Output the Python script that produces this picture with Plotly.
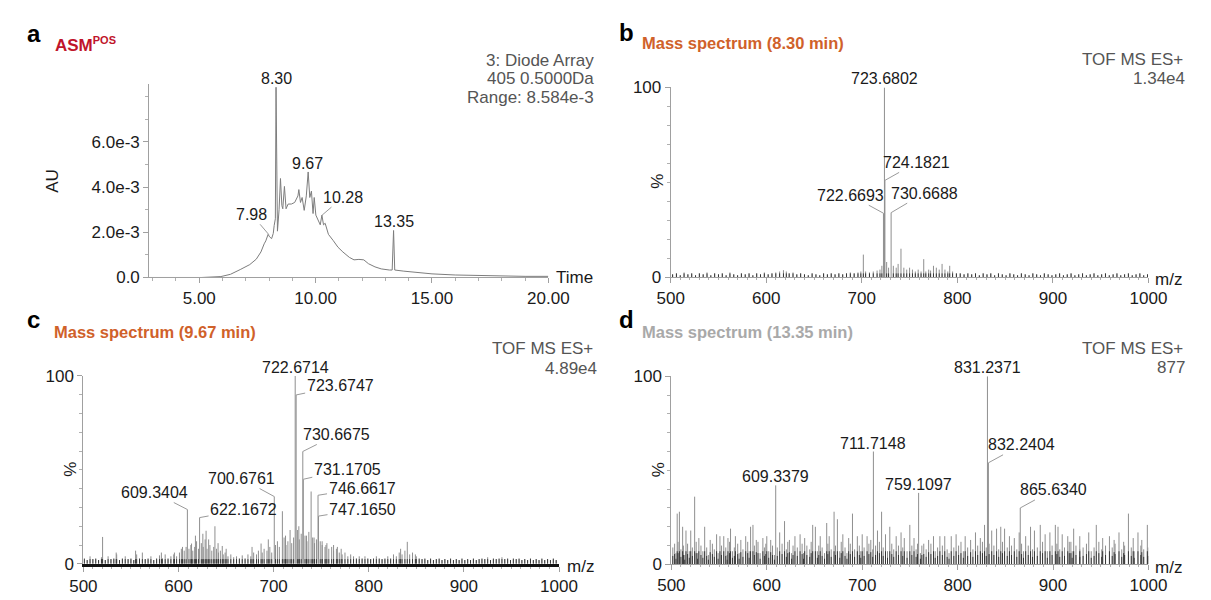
import plotly.graph_objects as go

W, H = 1211, 600
OFF = 8  # page body margin of the browser
FONT = "Liberation Sans, Arial, Helvetica, sans-serif"

# ---------------- data ----------------
# Panel a: diode-array chromatogram (min, AU x 1e-3)
CHROM_T = [2.85, 4.0, 5.10, 5.93, 6.34, 6.76, 7.17, 7.45, 7.65, 7.79,
           7.86, 7.96, 8.02, 8.11, 8.18, 8.22, 8.27, 8.30, 8.36, 8.43,
           8.49, 8.55, 8.59, 8.66, 8.73, 8.82, 8.96, 9.10, 9.17, 9.24,
           9.28, 9.35, 9.42, 9.51, 9.60, 9.68, 9.75, 9.82, 9.89, 9.94,
           10.01, 10.09, 10.20, 10.27, 10.34, 10.41, 10.55, 10.76, 10.96, 11.17,
           11.45, 11.65, 11.86, 12.07, 12.27, 12.55, 12.82, 13.17, 13.29, 13.35,
           13.40, 13.79, 14.21, 15.0, 16.0, 17.0, 18.0, 19.0, 20.0]
CHROM_MAU = [0.0, 0.0, 0.0, 0.04, 0.14, 0.35, 0.57, 0.81, 1.13, 1.49,
             1.62, 1.91, 1.80, 1.72, 1.95, 2.30, 2.60, 8.42, 2.05, 3.00,
             4.38, 3.18, 3.04, 4.03, 3.04, 3.25, 3.25, 3.32, 3.47, 3.61,
             3.89, 3.32, 3.54, 2.97, 3.61, 4.67, 3.54, 3.82, 2.83, 3.54,
             2.76, 2.55, 2.33, 2.76, 2.33, 2.40, 1.91, 1.63, 1.34, 1.13,
             0.89, 0.78, 0.80, 0.78, 0.61, 0.47, 0.38, 0.33, 0.33, 2.08,
             0.33, 0.28, 0.24, 0.16, 0.11, 0.08, 0.06, 0.05, 0.05]
CHROM_LABELS = [8.30, 9.67, 13.35]
CHROM_LABEL_AU = [8.42, 4.67, 2.08]
CHROM_LEADER_LABELS = [7.98, 10.28]
CHROM_LEADER_AU = [1.91, 2.76]

# Panel b: mass spectrum 8.30 min (m/z, %)
B_PEAKS = [(722.6693, 33.7), (723.6802, 100), (724.1821, 51), (730.6688, 34)]
B_NOISE = [(502, 1.5), (506, 2), (510, 1), (514, 2.5), (518, 1.5), (522, 2), (526, 1), (530, 2),
           (534, 1.5), (538, 2.5), (542, 1), (546, 2), (550, 1.5), (554, 2), (558, 1), (562, 2.5),
           (566, 1.5), (570, 1), (574, 2), (578, 1.5), (582, 2), (586, 1), (590, 2), (594, 1.5),
           (598, 2.5), (602, 1.5), (606, 2), (610, 2.5), (614, 3), (618, 3.7), (621, 3), (624, 2),
           (628, 2.5), (632, 1.5), (636, 2), (640, 1.5), (644, 1), (648, 2), (652, 1.5), (656, 1),
           (660, 2), (664, 1.5), (668, 2), (672, 1.5), (676, 2), (680, 1.5), (684, 2), (688, 2.5),
           (692, 2), (696, 2.5), (699, 3), (701.6, 11.9), (704, 3), (708, 2.5), (712, 3), (716, 3.5),
           (719, 4), (721, 6), (726, 8), (728, 5), (733, 6), (736, 5), (738, 7), (741, 15),
           (744, 5), (747, 4), (750, 5), (753, 4), (756, 3), (759, 4), (762, 3), (764.8, 9.5),
           (767, 3), (770, 4), (772, 3.5), (775, 6), (778, 5), (781, 4), (784, 7), (787, 4),
           (790, 3), (792, 6), (795, 3), (799, 2), (803, 2), (807, 1.5), (811, 2), (815, 1.5),
           (819, 2), (823, 1), (827, 2), (831, 1.5), (835, 2), (839, 1), (843, 2), (847, 1.5),
           (851, 1), (855, 2), (859, 1.5), (863, 1), (867, 2), (871, 1.5), (875, 1), (879, 2),
           (883, 1.5), (887, 1), (891, 2), (895, 1.5), (899, 1), (903, 1.5), (907, 2), (911, 1),
           (915, 1.5), (919, 2), (923, 1), (927, 1.5), (931, 2), (935, 1), (939, 1.5), (943, 2),
           (947, 1), (951, 1.5), (955, 2), (959, 1), (963, 1.5), (967, 2), (971, 1), (975, 1.5),
           (979, 2), (983, 1), (987, 1.5), (991, 2), (995, 1), (999, 1.5)]

# Panel c: mass spectrum 9.67 min (m/z, %)
C_PEAKS = [(609.3404, 28.9), (622.1672, 24.6), (700.6761, 35.8), (722.6714, 100), (723.6747, 89.9),
           (730.6675, 59.8), (731.1705, 45), (746.6617, 36.5), (747.1650, 25.4)]
C_NOISE = [(520.2, 14.3), (534.5, 6), (554.9, 7), (582, 6), (595.7, 6), (604.2, 9), (613.7, 10.8),
           (617.8, 15), (625.6, 16), (629.0, 17.6), (631.7, 13), (638.3, 20), (641.6, 11), (646, 9.5),
           (650.1, 8), (677.3, 9), (686.8, 10.8), (694.4, 13), (709.2, 28), (712.5, 15), (717.3, 18),
           (726.5, 20), (734.5, 15), (739.4, 38.5), (742.5, 14), (751, 12), (755, 10), (763, 10),
           (767, 9), (771, 8), (833.5, 8), (840.5, 11.7), (849, 5)]
C_LOW = [(501, 3), (504, 2), (507, 4), (510, 2.5), (513, 3), (516, 2), (519, 3.5), (523, 2),
         (526, 4), (529, 2.5), (532, 3), (535, 5), (538, 2), (541, 3), (544, 4), (547, 2.5),
         (550, 3), (553, 2), (556, 5), (559, 3), (562, 6), (565, 2.5), (568, 3), (571, 4),
         (574, 2), (577, 3), (580, 4.5), (583, 3), (586, 5), (589, 3), (592, 4), (595, 5),
         (598, 4), (601, 6), (603, 8), (606, 7), (608, 9), (611, 8), (613, 10), (615, 7),
         (617, 9), (619, 12), (621, 8), (624, 11), (626, 9), (628, 13), (630, 8), (633, 10),
         (635, 7), (637, 9), (640, 8), (642, 6), (644, 7), (647, 5), (649, 6), (652, 4),
         (655, 5), (658, 3.5), (661, 4), (664, 3), (667, 4.5), (670, 3), (673, 5), (676, 4),
         (679, 6), (682, 5), (684, 7), (688, 6), (690, 8), (693, 7), (696, 9), (698, 6),
         (702, 10), (704, 12), (706, 9), (711, 14), (713, 10), (715, 12), (719, 11), (721, 14),
         (725, 18), (727, 13), (729, 16), (733, 15), (735, 12), (737, 17), (741, 14), (743, 11),
         (745, 13), (749, 12), (751, 10), (754, 9), (756, 11), (758, 8), (761, 9), (763, 7),
         (766, 8), (769, 6), (772, 5), (775, 6), (778, 4), (781, 5), (784, 4), (787, 3),
         (790, 4), (793, 3), (796, 4), (799, 3), (802, 2.5), (805, 3), (808, 4), (811, 3),
         (814, 2.5), (817, 3), (820, 4), (823, 3), (826, 5), (829, 4), (832, 6), (835, 5),
         (838, 7), (843, 5), (846, 6), (850, 4), (853, 3), (856, 2.5), (859, 3), (862, 2),
         (865, 3), (868, 2), (871, 2.5), (874, 3), (877, 2), (880, 2.5), (883, 2), (886, 3),
         (889, 2), (892, 2.5), (895, 2), (898, 3), (901, 2), (904, 2.5), (907, 2), (910, 3),
         (913, 2), (916, 2.5), (919, 3), (922, 2.5), (925, 3.5), (928, 2), (931, 3), (934, 2.5),
         (937, 3), (940, 3.5), (943, 2.5), (946, 3), (949, 2), (952, 3), (955, 2.5), (958, 3),
         (961, 2), (964, 2.5), (967, 2), (970, 3), (973, 2), (976, 2.5), (979, 2), (982, 3),
         (985, 2), (988, 2.5), (991, 2), (994, 3), (997, 2)]

# Panel d: mass spectrum 13.35 min (m/z, %)
D_PEAKS = [(609.3379, 42), (711.7148, 60), (759.1097, 38), (831.2371, 100), (832.2404, 54), (865.6340, 30)]
D_NOISE = [(503.4, 11), (506.1, 27), (508.4, 28), (511.8, 20), (515.3, 18), (520.3, 18), (524.4, 36),
           (528.8, 14), (534.9, 20), (540.7, 13), (547.4, 16), (550.9, 15), (554.9, 15), (559.3, 14),
           (562, 19), (567.1, 15), (572.8, 13), (577.9, 15), (583, 20), (585.5, 21), (590.8, 12),
           (595.9, 14), (600, 15), (604.1, 13), (613.5, 17), (618.6, 23), (623.7, 13), (629.5, 15),
           (634.9, 16), (639.7, 14), (648.1, 21), (650.9, 20), (656, 15), (662.8, 22), (665.4, 15),
           (670.5, 28), (674, 24), (679.7, 16), (685.8, 14), (689.8, 27), (694.9, 15), (700, 16),
           (705.1, 15), (716, 18), (720.3, 28), (724.4, 16), (728.9, 20), (735.6, 15), (740.7, 17),
           (744.1, 14), (749.9, 21), (754.3, 14), (764.5, 11), (769.6, 13), (774.7, 15), (781.4, 15),
           (786.5, 15), (793.3, 15), (798.4, 16), (803.5, 12), (807.9, 15), (813.6, 13), (818.7, 17),
           (823.8, 14), (828.2, 21), (835.7, 18), (840.8, 19), (845.2, 20), (849.2, 19), (854.3, 15),
           (859.4, 14), (864.5, 17), (871.3, 15), (876.4, 20), (880.5, 18), (886.6, 21), (891.7, 16),
           (896.7, 17), (902.4, 21), (905.2, 20), (909.6, 16), (915.4, 15), (918.7, 12), (921.6, 19),
           (928, 15), (937.4, 17), (945.3, 21), (952, 14), (959.1, 15), (964, 13), (969.1, 17),
           (974, 12), (979, 27), (984, 14), (989, 17), (993, 13), (998.8, 21)]
D_LOW = [(501.5, 9), (504.8, 6), (507, 12), (510, 8), (512.6, 10), (514, 5), (517, 11), (518.8, 7),
         (522, 9), (526, 12), (527.5, 6), (531, 10), (533, 7), (537, 9), (538.8, 5), (543, 11),
         (545, 8), (549, 6), (552.5, 10), (557, 9), (558.5, 5), (561, 12), (564, 7), (566, 9),
         (569.5, 11), (571, 6), (575, 8), (580, 12), (581.5, 7), (587, 10), (589, 13), (593, 6),
         (597.5, 9), (599, 11), (602, 7), (606, 10), (608, 5), (611, 9), (616, 11), (620.5, 8),
         (622, 12), (626, 6), (627.5, 10), (632, 9), (637, 11), (638.5, 6), (642, 10), (645, 8),
         (646.5, 12), (653, 7), (654.5, 10), (658, 9), (660.5, 6), (664, 11), (667.5, 8), (672, 10),
         (676.5, 7), (678, 12), (682, 9), (684, 6), (687.5, 11), (692, 8), (697, 10), (698.5, 7),
         (702, 9), (707, 11), (709, 13), (711, 8), (714, 10), (718, 12), (722, 9), (726.5, 7),
         (731, 11), (733, 8), (738, 10), (742.5, 9), (747, 7), (752, 10), (756.5, 8), (758, 11),
         (761, 6), (762.5, 10), (767, 8), (772, 11), (776.5, 7), (779, 9), (784, 10), (789, 8),
         (791, 6), (796, 9), (801, 10), (806, 7), (810.5, 9), (816, 8), (821, 10), (826, 12),
         (830, 9), (833, 11), (838, 10), (843, 8), (847, 12), (852, 9), (856.5, 10), (862, 8),
         (867, 11), (869, 7), (874, 10), (878.5, 8), (883.5, 9), (889, 12), (894, 7), (899, 10),
         (904, 11), (907, 8), (912, 9), (917, 12), (920, 7), (924, 10), (928, 8), (931.5, 9),
         (935, 11), (940, 7), (943, 9), (948, 12), (951, 8), (955, 10), (962, 9), (965, 11),
         (972, 8), (975, 10), (982, 9), (985, 7), (992, 10), (995, 8), (999.5, 9)]

MZ_TICKS = [500, 600, 700, 800, 900, 1000]
MZ_TICKTEXT = ["500", "600", "700", "800", "900", "1000"]
T_TICKS = [5, 10, 15, 20]
T_TICKTEXT = ["5.00", "10.00", "15.00", "20.00"]
AU_TICKS = [0, 0.002, 0.004, 0.006]
AU_TICKTEXT = ["0.0", "2.0e-3", "4.0e-3", "6.0e-3"]


# ---------------- helpers ----------------
def px(x):
    return (x - OFF) / W


def py(y):
    return 1 - (y - OFF) / H


def sticks(pairs, cap=None, frac=None):
    xs, ys = [], []
    for m, i in pairs:
        top = i
        if frac is not None:
            top = top * frac
        if cap is not None:
            top = min(top, cap)
        xs += [m, m, None]
        ys += [0, top, None]
    return xs, ys


fig = go.Figure()

# panel a trace
fig.add_trace(go.Scatter(x=CHROM_T, y=[v * 1e-3 for v in CHROM_MAU], mode="lines",
                         line=dict(color="#7d7d7d", width=1), xaxis="x", yaxis="y",
                         hoverinfo="skip", showlegend=False))

# spectra: light sticks + dark dense base (base only drawn on the noise sticks)
spec = [("x2", "y2", B_NOISE, B_PEAKS, 2.0, None),
        ("x3", "y3", C_NOISE + C_LOW, C_PEAKS, 2.5, None),
        ("x4", "y4", D_NOISE + D_LOW, D_PEAKS, 7.0, 0.5)]
for xa_, ya_, noise, peaks, cap, frac in spec:
    xs, ys = sticks(noise + peaks)
    fig.add_trace(go.Scatter(x=xs, y=ys, mode="lines", line=dict(color="#8f8f8f", width=1),
                             xaxis=xa_, yaxis=ya_, hoverinfo="skip", showlegend=False))
    xs, ys = sticks(noise, cap, frac)
    fig.add_trace(go.Scatter(x=xs, y=ys, mode="lines", line=dict(color="#1e1e1e", width=1),
                             opacity=0.8, xaxis=xa_, yaxis=ya_, hoverinfo="skip", showlegend=False))

# ---------------- axes ----------------
tickfont = dict(family=FONT, size=17, color="#1a1a1a")
common = dict(showline=True, linecolor="#a0a0a0", linewidth=1, ticks="outside", tickcolor="#a0a0a0",
              ticklen=5, tickwidth=1, showgrid=False, zeroline=False, tickfont=tickfont,
              fixedrange=True)


def mz_x(domain, anchor, lw=1, lc="#a0a0a0"):
    d = dict(common)
    d.update(domain=domain, anchor=anchor, range=[500, 1000], tickmode="array",
             tickvals=MZ_TICKS, ticktext=MZ_TICKTEXT, linewidth=lw, linecolor=lc,
             minor=dict(tickmode="linear", tick0=500, dtick=10, ticklen=2, ticks="outside",
                        tickcolor="#b0b0b0", showgrid=False))
    return d


def pct_y(domain, anchor):
    d = dict(common)
    d.update(domain=domain, anchor=anchor, range=[0, 100], tickmode="array", tickvals=[0, 100],
             ticktext=["0", "100"],
             minor=dict(tickmode="linear", tick0=0, dtick=10, ticklen=3, ticks="outside",
                        tickcolor="#b0b0b0", showgrid=False))
    return d


xa = dict(common)
xa.update(domain=[px(139), px(550)], anchor="y", range=[2.85, 20.0], tickmode="array",
          tickvals=T_TICKS, ticktext=T_TICKTEXT,
          minor=dict(tickmode="linear", tick0=0, dtick=1, ticklen=3, ticks="outside",
                     tickcolor="#b0b0b0", showgrid=False))
ya = dict(common)
ya.update(domain=[py(277), py(76.7)], anchor="x", range=[0, 0.008584], tickmode="array",
          tickvals=AU_TICKS, ticktext=AU_TICKTEXT,
          minor=dict(tickmode="linear", tick0=0, dtick=0.001, ticklen=3, ticks="outside",
                     tickcolor="#b0b0b0", showgrid=False))

fig.update_layout(
    width=W, height=H, margin=dict(l=0, r=0, t=0, b=0),
    paper_bgcolor="white", plot_bgcolor="white", showlegend=False,
    font=dict(family=FONT, size=16, color="#1a1a1a"),
    xaxis=xa, yaxis=ya,
    xaxis2=mz_x([px(676), px(1168)], "y2"), yaxis2=pct_y([py(276.7), py(80.7)], "x2"),
    xaxis3=mz_x([px(71.2), px(561)], "y3", lw=2.5, lc="#111111"), yaxis3=pct_y([py(572.7), py(378.7)], "x3"),
    xaxis4=mz_x([px(676.7), px(1168)], "y4"), yaxis4=pct_y([py(573.3), py(379)], "x4"),
)


# ---------------- annotations ----------------
def ptxt(x, y, s, size=17, color="#1a1a1a", xanchor="left", yanchor="middle", angle=0):
    fig.add_annotation(x=px(x), y=py(y), xref="paper", yref="paper", text=s, showarrow=False,
                       xanchor=xanchor, yanchor=yanchor, textangle=angle,
                       font=dict(family=FONT, size=size, color=color))


def plabel(xr, yr, x, y, s, ax=None, ay=None):
    f = dict(family=FONT, size=16, color="#1a1a1a")
    if ax is None:
        fig.add_annotation(x=x, y=y, xref=xr, yref=yr, text=s, showarrow=False,
                           xanchor="center", yanchor="bottom", yshift=-2, font=f)
    else:
        fig.add_annotation(x=x, y=y, xref=xr, yref=yr, text=s, showarrow=True, arrowhead=0,
                           arrowwidth=1, arrowcolor="#9a9a9a", ax=ax, ay=ay, standoff=0,
                           font=f)


# panel letters & titles
for (x, y, s) in [(20, 25, "a"), (630, 24, "b"), (20, 320, "c"), (630, 320, "d")]:
    ptxt(x, y, "<b>%s</b>" % s, size=24, color="#000000", xanchor="center")
ptxt(40, 36, "<b>ASM<sup><span style='font-size:11px'>POS</span></sup></b>", size=17, color="#c0142a")
ptxt(644, 35, "<b>Mass spectrum (8.30 min)</b>", size=16.5, color="#d0612a")
ptxt(39, 333, "<b>Mass spectrum (9.67 min)</b>", size=16.5, color="#d0612a")
ptxt(644, 333, "<b>Mass spectrum (13.35 min)</b>", size=16.5, color="#a9a9a9")

# header info
GREY = "#555555"
ptxt(599, 53, "3: Diode Array", color=GREY, xanchor="right")
ptxt(599, 72, "405 0.5000Da", color=GREY, xanchor="right")
ptxt(599, 91, "Range: 8.584e-3", color=GREY, xanchor="right")
ptxt(1206, 52, "TOF MS ES+", color=GREY, xanchor="right")
ptxt(1208, 72, "1.34e4", color=GREY, xanchor="right")
ptxt(598, 350, "TOF MS ES+", color=GREY, xanchor="right")
ptxt(602, 371, "4.89e4", color=GREY, xanchor="right")
ptxt(1206, 350, "TOF MS ES+", color=GREY, xanchor="right")
ptxt(1208, 370, "877", color=GREY, xanchor="right")

# axis titles
ptxt(40, 177, "AU", angle=-90, xanchor="center")
ptxt(663, 178, "%", angle=-90, xanchor="center")
ptxt(58, 475, "%", angle=-90, xanchor="center")
ptxt(663, 476, "%", angle=-90, xanchor="center")
ptxt(556, 277, "Time")
ptxt(1173, 279, "m/z")
ptxt(567, 575, "m/z")
ptxt(1173, 576, "m/z")

# panel a peak labels
for t, v in zip(CHROM_LABELS, CHROM_LABEL_AU):
    plabel("x", "y", t, v * 1e-3, "%.2f" % t)
for (t, v), (ax, ay) in zip(zip(CHROM_LEADER_LABELS, CHROM_LEADER_AU), [(-17, -20), (21, -18)]):
    plabel("x", "y", t, v * 1e-3, "%.2f" % t, ax, ay)

# panel b
b_off = {722.6693: (-33, -18), 724.1821: (32, -18), 730.6688: (33, -19.5)}
for m, i in B_PEAKS:
    o = b_off.get(m, (None, None))
    plabel("x2", "y2", m, i, "%.4f" % m, *o)

# panel c
c_off = {609.3404: (-33, -17), 622.1672: (44, -8), 700.6761: (-33, -18), 723.6747: (44, -9),
         730.6675: (34, -17), 731.1705: (44, -10), 746.6617: (44, -7), 747.1650: (44, -7)}
for m, i in C_PEAKS:
    o = c_off.get(m, (None, None))
    plabel("x3", "y3", m, i, "%.4f" % m, *o)

# panel d
d_off = {832.2404: (33, -18), 865.6340: (33, -18)}
for m, i in D_PEAKS:
    o = d_off.get(m, (None, None))
    plabel("x4", "y4", m, i, "%.4f" % m, *o)

fig.write_html("out.html")
